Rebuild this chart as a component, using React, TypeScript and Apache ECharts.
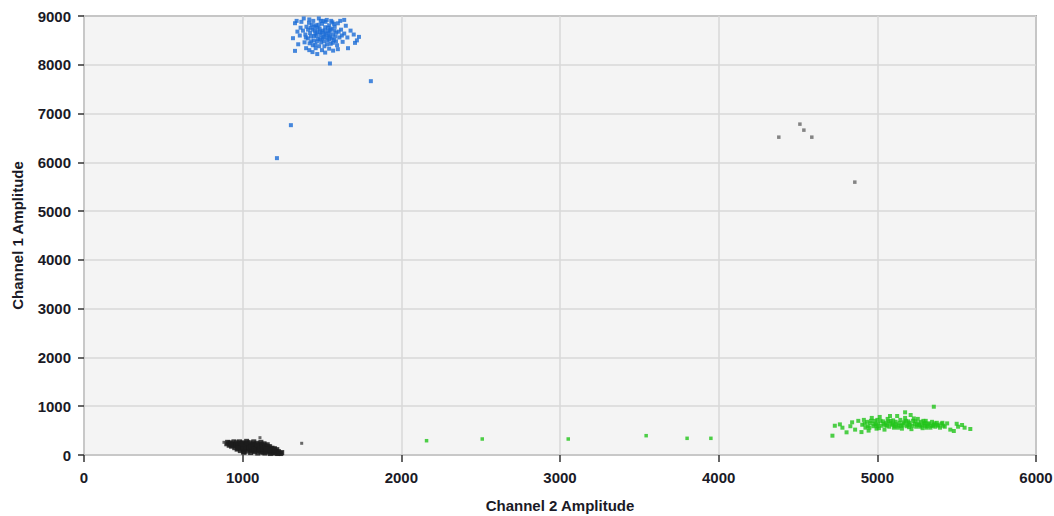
import React, { useEffect, useRef } from "react";
import * as echarts from "echarts";

const xTicks = [0, 1000, 2000, 3000, 4000, 5000, 6000];
const yTicks = [0, 1000, 2000, 3000, 4000, 5000, 6000, 7000, 8000, 9000];

const bluePoints: number[][] = [
  [1330, 8852], [1330, 8285], [1317, 8545], [1733, 8572], [1708, 8449], [1664, 8340], [1550, 8027], [1808, 7664], [1304, 6762], [1216, 6086],
  [1380, 8700], [1395, 8620], [1402, 8780], [1410, 8540], [1418, 8860], [1425, 8650], [1432, 8480], [1440, 8720], [1445, 8900], [1450, 8590],
  [1458, 8410], [1462, 8810], [1470, 8670], [1475, 8530], [1480, 8950], [1485, 8740], [1490, 8610], [1495, 8460], [1500, 8840], [1505, 8700],
  [1510, 8570], [1515, 8380], [1520, 8770], [1525, 8640], [1530, 8920], [1535, 8500], [1540, 8690], [1545, 8810], [1550, 8580], [1555, 8430],
  [1560, 8740], [1565, 8870], [1570, 8620], [1575, 8510], [1580, 8780], [1590, 8660], [1595, 8400], [1600, 8850], [1610, 8560], [1620, 8720],
  [1630, 8470], [1640, 8640], [1650, 8800], [1660, 8560], [1390, 8460], [1400, 8340], [1420, 8300], [1440, 8260], [1460, 8340], [1470, 8220],
  [1500, 8300], [1520, 8250], [1545, 8330], [1570, 8290], [1600, 8320], [1360, 8600], [1365, 8760], [1350, 8420], [1345, 8680], [1370, 8880],
  [1385, 8950], [1420, 8930], [1455, 8700], [1465, 8600], [1478, 8820], [1488, 8520], [1498, 8660], [1508, 8900], [1512, 8480], [1528, 8560],
  [1538, 8760], [1548, 8660], [1558, 8900], [1568, 8450], [1585, 8580], [1605, 8680], [1615, 8900], [1625, 8600], [1680, 8700], [1700, 8620],
  [1430, 8580], [1442, 8400], [1452, 8780], [1482, 8380], [1492, 8900], [1518, 8700], [1532, 8420], [1542, 8600], [1562, 8540], [1578, 8700],
  [1412, 8720], [1422, 8440], [1436, 8820], [1448, 8500], [1468, 8480], [1472, 8760], [1502, 8540], [1522, 8880], [1552, 8720], [1588, 8480],
  [1340, 8900], [1640, 8920], [1720, 8500], [1398, 8560], [1428, 8760], [1458, 8640], [1486, 8680], [1516, 8620], [1546, 8520], [1576, 8840]
];

const greenPoints: number[][] = [
  [4717, 396], [4732, 600], [4764, 628], [4806, 465], [4841, 670], [5356, 990], [5175, 875], [5586, 533], [5509, 580], [5534, 615],
  [5482, 492], [5440, 648], [4780, 560], [4860, 520], [4880, 700], [5550, 560], [5500, 640], [5460, 520], [4830, 590], [4900, 470],
  [4905, 620], [4915, 720], [4925, 560], [4935, 680], [4945, 500], [4955, 650], [4965, 760], [4975, 590], [4985, 700], [4995, 540],
  [5005, 640], [5015, 780], [5025, 600], [5035, 690], [5045, 520], [5055, 660], [5065, 740], [5075, 580], [5085, 700], [5095, 620],
  [5105, 560], [5115, 680], [5125, 800], [5135, 600], [5145, 720], [5155, 540], [5165, 650], [5175, 760], [5185, 590], [5195, 690],
  [5205, 620], [5215, 530], [5225, 700], [5235, 640], [5245, 580], [5255, 740], [5265, 610], [5275, 680], [5285, 550], [5295, 640],
  [5305, 700], [5315, 590], [5325, 650], [5335, 560], [5345, 680], [5355, 620], [5365, 580], [5375, 660], [5385, 600], [5395, 560],
  [5405, 640], [5415, 600], [5425, 580], [4920, 640], [4940, 590], [4960, 700], [4980, 640], [5000, 590], [5020, 700], [5040, 640],
  [5060, 600], [5080, 650], [5100, 710], [5120, 630], [5140, 660], [5160, 610], [5180, 700], [5200, 660], [5220, 600], [5240, 690],
  [5260, 650], [5280, 610], [5300, 600], [5320, 630], [5340, 600], [5360, 650], [5380, 620], [5000, 720], [5050, 610], [5100, 640],
  [5150, 600], [5200, 570], [5250, 620], [5300, 660], [5350, 600], [4950, 560], [5010, 550], [5070, 690], [5130, 560], [5190, 620],
  [5230, 750], [5270, 580], [5310, 560], [5080, 800], [5210, 820], [4990, 620], [5110, 590], [5170, 680], [5290, 700], [5410, 660]
];

const greenStrays: number[][] = [
  [2159, 293], [2510, 328], [3052, 328], [3543, 396], [3801, 342], [3951, 342]
];

const blackPoints: number[][] = [
  [900, 230], [905, 260], [915, 200], [920, 250], [930, 180], [935, 230], [945, 270], [950, 150], [955, 210],
  [960, 250], [965, 120], [970, 180], [975, 230], [980, 270], [985, 90], [990, 150], [995, 200], [1000, 250], [1005, 60],
  [1010, 120], [1015, 180], [1020, 230], [1025, 280], [1030, 80], [1035, 140], [1040, 200], [1045, 250], [1050, 50], [1055, 110],
  [1060, 170], [1065, 230], [1070, 270], [1075, 70], [1080, 130], [1085, 190], [1090, 240], [1095, 40], [1100, 100], [1105, 160],
  [1110, 220], [1115, 260], [1120, 60], [1125, 120], [1130, 180], [1135, 230], [1140, 40], [1145, 100], [1150, 160], [1155, 210],
  [1160, 60], [1165, 120], [1170, 170], [1175, 30], [1180, 90], [1185, 140], [1190, 50], [1195, 100], [1200, 130], [1205, 40],
  [1210, 80], [1215, 110], [1220, 30], [1225, 70], [1230, 40], [1240, 30], [1246, 50], [960, 200], [980, 160], [1000, 120],
  [1000, 180], [1020, 150], [1040, 120], [1040, 170], [1060, 90], [1060, 140], [1080, 100], [1080, 210], [1100, 140], [1100, 190],
  [1120, 150], [1120, 210], [1140, 140], [1140, 190], [1160, 100], [1160, 170], [1180, 60], [1180, 120], [1200, 70], [1200, 100],
  [1000, 220], [1010, 60], [1030, 250], [1050, 210], [1070, 190], [1090, 160], [1110, 80], [1130, 60], [1150, 80], [1170, 110],
  [940, 200], [925, 220], [970, 140], [990, 240], [1050, 160], [1070, 120], [1090, 200], [1110, 130], [1130, 130], [1150, 120]
];

const darkOutliers: number[][] = [
  [1109, 355], [882, 260], [1372, 240]
];

const grayPoints: number[][] = [
  [4379, 6516], [4512, 6783], [4537, 6660], [4587, 6516], [4858, 5594]
];

const FONT = "Liberation Sans";
const TEXT = "#1a1a26";

export default function App() {
  const ref = useRef<HTMLDivElement>(null);
  useEffect(() => {
    if (!ref.current) return;
    const chart = echarts.init(ref.current, undefined, { renderer: "svg" });
    chart.setOption({
      animation: false,
      backgroundColor: "#ffffff",
      grid: {
        left: 84,
        right: 18,
        top: 16,
        bottom: 61,
        outerBoundsMode: "none",
        containLabel: false,
        show: true,
        backgroundColor: "#f4f4f4",
        borderColor: "#6e6e6e",
        borderWidth: 1.5,
      },
      xAxis: {
        type: "value",
        min: xTicks[0],
        max: xTicks[xTicks.length - 1],
        interval: 1000,
        name: "Channel 2 Amplitude",
        nameLocation: "middle",
        nameGap: 43,
        nameTextStyle: { fontFamily: FONT, fontSize: 15, fontWeight: "bold", color: TEXT },
        axisLine: { show: true, lineStyle: { color: "#c8c8c8", width: 2 } },
        axisTick: { show: true, length: 7, lineStyle: { color: "#333", width: 1.5 } },
        axisLabel: { fontFamily: FONT, fontSize: 15, fontWeight: "bold", color: TEXT, margin: 15, formatter: (v: number) => String(v) },
        splitLine: { show: true, lineStyle: { color: "#d8d8d8", width: 1.5 } },
      },
      yAxis: {
        type: "value",
        min: yTicks[0],
        max: yTicks[yTicks.length - 1],
        interval: 1000,
        name: "Channel 1 Amplitude",
        nameLocation: "middle",
        nameRotate: 90,
        nameGap: 59,
        nameTextStyle: { fontFamily: FONT, fontSize: 15, fontWeight: "bold", color: TEXT },
        axisLine: { show: true, lineStyle: { color: "#c8c8c8", width: 2 } },
        axisTick: { show: true, length: 6, lineStyle: { color: "#333", width: 1.5 } },
        axisLabel: { fontFamily: FONT, fontSize: 15, fontWeight: "bold", color: TEXT, margin: 13, formatter: (v: number) => String(v) },
        splitLine: { show: true, lineStyle: { color: "#d8d8d8", width: 1.5 } },
      },
      series: [
        {
          type: "scatter",
          data: blackPoints,
          symbol: "rect",
          symbolSize: 5,
          itemStyle: { color: "#1c1c1c", opacity: 0.85 },
        },
        {
          type: "scatter",
          data: darkOutliers,
          symbol: "rect",
          symbolSize: 3,
          itemStyle: { color: "#444444" },
        },
        {
          type: "scatter",
          data: grayPoints,
          symbol: "rect",
          symbolSize: 3.5,
          itemStyle: { color: "#666666" },
        },
        {
          type: "scatter",
          data: bluePoints,
          symbol: "rect",
          symbolSize: 4,
          itemStyle: { color: "#1a6bd6" },
        },
        {
          type: "scatter",
          data: greenPoints,
          symbol: "rect",
          symbolSize: 4,
          itemStyle: { color: "#22c41a" },
        },
        {
          type: "scatter",
          data: greenStrays,
          symbol: "rect",
          symbolSize: 3.5,
          itemStyle: { color: "#22c41a" },
        },
      ],
    });
    return () => chart.dispose();
  }, []);
  return (
    <div
      ref={ref}
      style={{ position: "fixed", left: 0, top: 0, width: 1054, height: 516 }}
    />
  );
}
